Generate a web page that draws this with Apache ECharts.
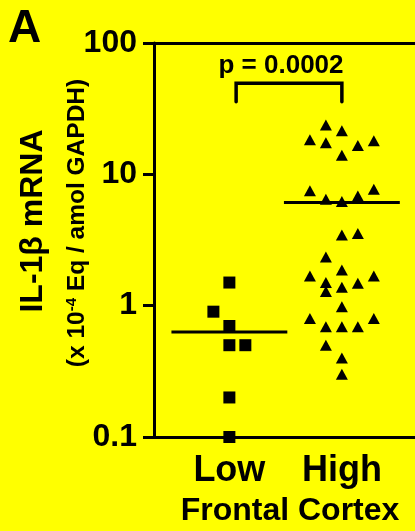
<!DOCTYPE html>
<html>
<head>
<meta charset="utf-8">
<script src="https://cdn.jsdelivr.net/npm/echarts@6/dist/echarts.min.js"></script>
<style>
html,body{margin:0;padding:0;background:#ffff00;}
#c{width:415px;height:531px;}
</style>
</head>
<body>
<div id="c"></div>
<script>
// ---- data ----
const categories = ['Low', 'High'];
const lowValues  = [1.5, 0.9, 0.7, 0.5, 0.5, 0.2, 0.1];
const lowSlots   = [0, -1, 0, 0, 1, 0, 0];
const highValues = [23.8, 21.5, 18.3, 17.4, 18.0, 16.6, 14.0,
                    7.5, 7.7, 6.45, 6.2, 6.85,
                    3.45, 3.55, 2.35, 1.87, 1.68, 1.68, 1.5, 1.48, 1.38, 1.28,
                    0.98, 0.8, 0.8, 0.69, 0.69, 0.69, 0.5, 0.4, 0.3];
const highSlots  = [-1, 0, -2, -1, 2, 1, 0,
                    -2, 2, -1, 0, 1,
                    0, 1, -1, 0, -2, 2, -1, 1, 0, -1,
                    0, -2, 2, -1, 0, 1, -1, 0, 0];
const groupMeans = [0.63, 6.1];
const yTicks = [0.1, 1, 10, 100];
const pLabel = 'p = 0.0002';
const bracketValues = [35.7, 49.3];
const bracketGroups = [1.06, 2];

// ---- presentation ----
const FONT = '"Liberation Sans", Arial, sans-serif';
const SLOT = 0.142;   // jitter slot width in x units
const HALF = 0.515;   // half width of mean line

function pts(vals, slots, g) {
  return vals.map((v, i) => [g + slots[i] * SLOT, v]);
}

const chart = echarts.init(document.getElementById('c'), null, {renderer: 'canvas'});
chart.setOption({
  backgroundColor: '#ffff00',
  animation: false,
  grid: {left: 154, top: 43, right: 0, bottom: 94, containLabel: false, outerBoundsMode: 'none'},
  xAxis: [{
    type: 'value', min: 0.33, max: 2.65, position: 'bottom',
    splitLine: {show: false},
    axisTick: {show: false},
    axisLine: {show: true, onZero: false, lineStyle: {color: '#000', width: 3}},
    axisLabel: {
      customValues: [1, 2],
      formatter: v => categories[Math.round(v) - 1] || '',
      color: '#000', fontSize: 36, fontWeight: 'bold', fontFamily: FONT, margin: 16
    }
  }, {
    type: 'value', min: 0.33, max: 2.65, position: 'top',
    splitLine: {show: false}, axisTick: {show: false}, axisLabel: {show: false},
    axisLine: {show: true, onZero: false, lineStyle: {color: '#000', width: 3}}
  }],
  yAxis: {
    type: 'log', logBase: 10, min: 0.1, max: 100,
    splitLine: {show: false},
    minorTick: {show: false},
    axisLine: {show: true, lineStyle: {color: '#000', width: 3}},
    axisTick: {show: true, length: 11, lineStyle: {color: '#000', width: 3}},
    axisLabel: {
      customValues: yTicks,
      formatter: v => String(+v.toPrecision(3)),
      color: '#000', fontSize: 32, fontWeight: 'bold', fontFamily: FONT, margin: 17
    }
  },
  series: [
    {
      type: 'line', symbol: 'none', z: 2,
      data: [[1 - HALF, groupMeans[0]], [1 + HALF, groupMeans[0]]],
      lineStyle: {color: '#000', width: 3}
    },
    {
      type: 'line', symbol: 'none', z: 2,
      data: [[2 - HALF, groupMeans[1]], [2 + HALF, groupMeans[1]]],
      lineStyle: {color: '#000', width: 3}
    },
    {
      type: 'line', symbol: 'none', z: 2,
      data: [[bracketGroups[0], bracketValues[0]], [bracketGroups[0], bracketValues[1]],
             [bracketGroups[1], bracketValues[1]], [bracketGroups[1], bracketValues[0]]],
      lineStyle: {color: '#000', width: 3.5, cap: 'round', join: 'miter'}
    },
    {
      type: 'scatter', symbol: 'rect', symbolSize: 12, z: 3,
      data: pts(lowValues, lowSlots, 1),
      itemStyle: {color: '#000', opacity: 1}
    },
    {
      type: 'scatter', symbol: 'triangle', symbolSize: [12, 11], z: 3,
      data: pts(highValues, highSlots, 2),
      itemStyle: {color: '#000', opacity: 1}
    }
  ],
  graphic: [
    {type: 'text', x: 8, y: 29, style: {text: 'A', fill: '#000', font: 'bold 46px ' + FONT, textAlign: 'left', textVerticalAlign: 'middle'}},
    {type: 'text', x: 281, y: 66, style: {text: pLabel, fill: '#000', font: 'bold 26px ' + FONT, textAlign: 'center', textVerticalAlign: 'middle'}},
    {type: 'text', x: 290, y: 511, style: {text: 'Frontal Cortex', fill: '#000', font: 'bold 32px ' + FONT, textAlign: 'center', textVerticalAlign: 'middle'}},
    {type: 'text', x: 33, y: 221, rotation: Math.PI / 2,
      style: {text: 'IL-1β mRNA', fill: '#000', font: 'bold 32px ' + FONT, textAlign: 'center', textVerticalAlign: 'middle'}},
    {type: 'text', x: 77, y: 223, rotation: Math.PI / 2,
      style: {
        text: '{a|(x 10}{s|-4}{a| Eq / amol GAPDH)}',
        textAlign: 'center', textVerticalAlign: 'middle',
        rich: {
          a: {fill: '#000', fontSize: 24.5, fontWeight: 'bold', fontFamily: FONT, lineHeight: 26, verticalAlign: 'bottom'},
          s: {fill: '#000', fontSize: 15, fontWeight: 'bold', fontFamily: FONT, lineHeight: 26, verticalAlign: 'top'}
        }
      }}
  ]
});
</script>
</body>
</html>
